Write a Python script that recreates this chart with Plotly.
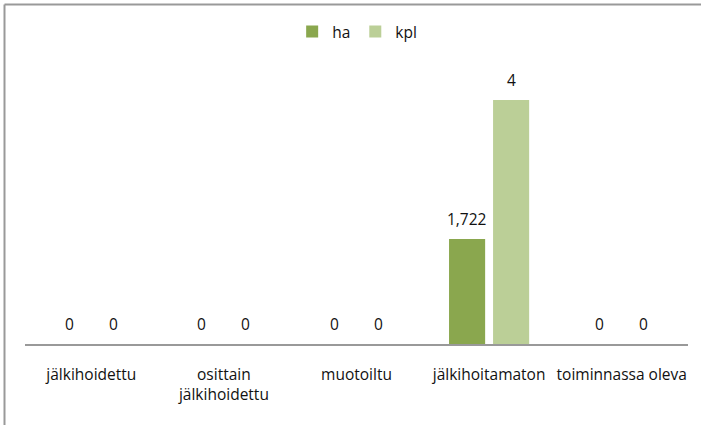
import plotly.graph_objects as go

categories = ["jälkihoidettu", "osittain<br>jälkihoidettu", "muotoiltu", "jälkihoitamaton", "toiminnassa oleva"]
ha_values = [0, 0, 0, 1.722, 0]
kpl_values = [0, 0, 0, 4, 0]
series_names = ["ha", "kpl"]
colors = ["#8AA74E", "#BBCF97"]

W, H = 701, 425
ML, MR, MT, MB = 25, 13, 39, 81
FONT = "Open Sans, Lato, sans-serif"
FS = 15.5

def fi(v):
    return f"{v:g}".replace(".", ",")

fig = go.Figure()
for name, vals, col in zip(series_names, [ha_values, kpl_values], colors):
    fig.add_trace(go.Bar(x=categories, y=vals, name=name, marker_color=col,
                         marker_line_width=0, hoverinfo="x+y"))

annotations = []
for shift, vals in zip([-22, 22], [ha_values, kpl_values]):
    for c, v in zip(categories, vals):
        annotations.append(dict(x=c, y=v, xref="x", yref="y", text=fi(v),
                                showarrow=False, xshift=shift, yshift=7,
                                yanchor="bottom", font=dict(size=FS, color="#111", family=FONT)))

pw = W - ML - MR
ph = H - MT - MB
bx = (4.5 - ML) / pw
by = (H - MB - 4.5) / ph
shapes = [
    dict(type="line", xref="paper", yref="paper", x0=bx, x1=1.1, y0=by, y1=by,
         line=dict(color="#999999", width=2)),
    dict(type="line", xref="paper", yref="paper", x0=bx, x1=bx, y0=by, y1=-(MB + 5) / ph,
         line=dict(color="#999999", width=2)),
]

fig.update_layout(
    width=W, height=H,
    margin=dict(l=ML, r=MR, t=MT, b=MB),
    paper_bgcolor="white", plot_bgcolor="white",
    barmode="group", bargap=0.336, bargroupgap=0.18,
    font=dict(family=FONT, size=FS, color="#111"),
    legend=dict(orientation="h", x=0.501, xanchor="center", y=(H - MB - 32) / ph, yanchor="middle",
                font=dict(size=FS, family=FONT), itemwidth=30, tracegroupgap=0),
    xaxis=dict(showline=True, linecolor="#999999", linewidth=2, ticks="", showgrid=False,
               tickfont=dict(size=FS, family=FONT, color="#111"), ticklabelstandoff=15),
    yaxis=dict(range=[0, 5], visible=False, showgrid=False, zeroline=False),
    annotations=annotations,
    shapes=shapes,
    showlegend=True,
)
fig.write_html("out.html", config={"displayModeBar": False},
               post_script="document.body.style.margin='0';document.body.style.padding='0';")
